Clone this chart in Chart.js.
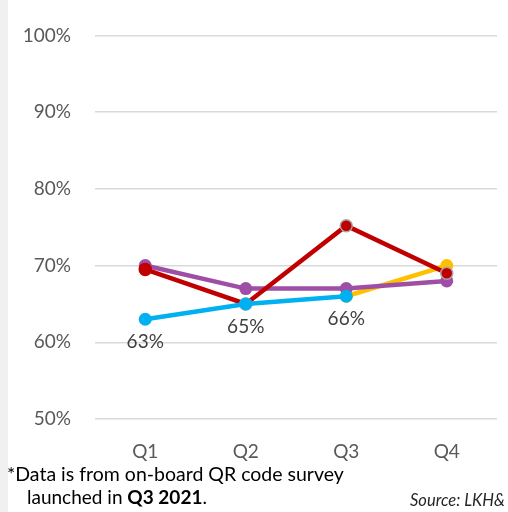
<!DOCTYPE html>
<html>
<head>
<meta charset="utf-8">
<script src="https://cdn.jsdelivr.net/npm/chart.js@4"></script>
<style>
  html, body { margin: 0; padding: 0; background: #fff; }
  #wrap { position: relative; width: 508px; height: 512px; overflow: hidden; }
  #strip { position: absolute; left: 0; top: 0; width: 8px; height: 512px; background: #f0f0f0; }
  #chart { position: absolute; left: 0; top: 0; }
  .note { position: absolute; font-family: Lato, "Noto Sans", sans-serif; color: #000; white-space: nowrap; }
  #note1 { left: 7px; top: 462px; font-size: 19.5px; }
  #note2 { left: 27px; top: 485px; font-size: 19px; }
  #source { left: 410px; top: 490px; font-size: 16.5px; font-style: italic; color: #262626; }
</style>
</head>
<body>
<div id="wrap">
  <div id="strip"></div>
  <canvas id="chart" width="508" height="512"></canvas>
  <div class="note" id="note1">*Data is from on-board QR code survey</div>
  <div class="note" id="note2">launched in <b>Q3 2021</b>.</div>
  <div class="note" id="source">Source: LKH&amp;</div>
</div>
<script>
const quarters = ['Q1', 'Q2', 'Q3', 'Q4'];
const blueValues = [63, 65, 66, null];
const redValues = [69.5, 65, 75.2, 69];
const purpleValues = [70, 67, 67, 68];
const yellowValues = [null, null, 66, 70];

const font = 'Lato, "Noto Sans", sans-serif';

// value labels under the blue line
const blueLabels = {
	id: 'blueLabels',
	afterDatasetsDraw(chart)
	{
		const ctx = chart.ctx;
		const meta = chart.getDatasetMeta(0);
		ctx.save();
		ctx.font = '19px ' + font;
		ctx.fillStyle = '#404040';
		ctx.textAlign = 'center';
		ctx.textBaseline = 'middle';
		meta.data.forEach((pt, i) => {
			if (blueValues[i] === null)
				return;
			ctx.fillText(blueValues[i] + '%', pt.x, pt.y + 23);
		});
		ctx.restore();
	}
};

function series(data, color, extra)
{
	return Object.assign({
		data: data,
		borderColor: color,
		backgroundColor: color,
		pointBackgroundColor: color,
		pointBorderWidth: 0,
		pointRadius: 6.5,
		borderWidth: 4.5,
		tension: 0,
		spanGaps: false
	}, extra || {});
}

new Chart(document.getElementById('chart'), {
	type: 'line',
	data: {
		labels: quarters,
		datasets: [
			series(blueValues, '#00b0f0'),
			series(redValues, '#c00000', {
				pointBorderColor: ['#c00000', '#a6a6a6', '#a6a6a6', '#a6a6a6'],
				pointBorderWidth: 1.5,
				pointRadius: 6
			}),
			series(purpleValues, '#9e4fa5'),
			series(yellowValues, '#ffc000')
		]
	},
	options: {
		responsive: false,
		animation: false,
		events: [],
		layout: { padding: { left: 8, right: 11, top: 35, bottom: 0 } },
		plugins: {
			legend: { display: false },
			tooltip: { enabled: false }
		},
		scales: {
			x: {
				offset: true,
				grid: { display: false, drawTicks: false },
				border: { display: false },
				ticks: { color: '#595959', font: { family: font, size: 19 }, padding: 21 },
				afterFit: (scale) => { scale.height = 93; }
			},
			y: {
				min: 50,
				max: 100,
				grid: { color: '#d9d9d9', lineWidth: 1.5, drawTicks: false },
				border: { display: false },
				ticks: {
					stepSize: 10,
					color: '#595959',
					font: { family: font, size: 19 },
					padding: 24,
					callback: (v) => v + '%'
				},
				afterFit: (scale) => { scale.width = 87; }
			}
		}
	},
	plugins: [blueLabels]
});
</script>
</body>
</html>
